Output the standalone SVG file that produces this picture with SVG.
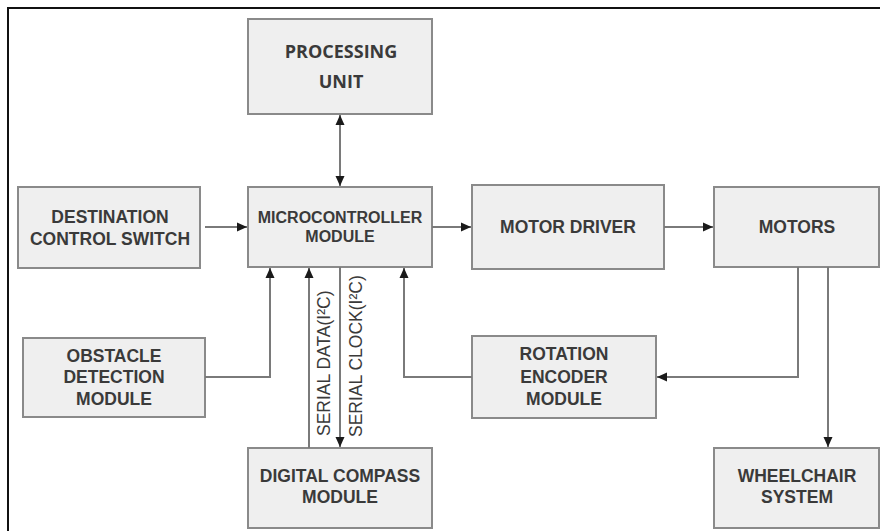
<svg xmlns="http://www.w3.org/2000/svg" width="880" height="531" viewBox="0 0 880 531">
<defs>
<marker id="arr" markerUnits="userSpaceOnUse" markerWidth="10" markerHeight="10" refX="10" refY="5" orient="auto-start-reverse" viewBox="0 0 10 10">
<path d="M0,0.5 L10,5 L0,9.5 z" fill="#1a1a1a"/>
</marker>
<style>
.box{fill:#efefef;stroke:#8a8a8a;stroke-width:2}
.t{font-family:"Liberation Sans",Arial,sans-serif;font-weight:bold;font-size:17.5px;fill:#3a3a3a;text-anchor:middle}
.pu{font-family:"Open Sans","Liberation Sans",sans-serif;font-weight:bold;font-size:18px;fill:#3a3a3a;text-anchor:middle}
.c{fill:none;stroke:#7a7a7a;stroke-width:2}
.lab{font-family:"Liberation Sans",Arial,sans-serif;font-size:17.5px;fill:#3a3a3a}
</style>
</defs>
<rect width="880" height="531" fill="#ffffff"/>
<path d="M8,531 V8 H880" fill="none" stroke="#111" stroke-width="2"/>

<g id="processing-unit">
<rect class="box" x="248" y="19" width="184" height="95"/>
<text class="pu" x="341" y="58">PROCESSING</text>
<text class="pu" x="341" y="88">UNIT</text>
</g>
<g id="destination-control-switch">
<rect class="box" x="18" y="187" width="182" height="81"/>
<text class="t" x="110" y="223">DESTINATION</text>
<text class="t" x="110" y="245">CONTROL SWITCH</text>
</g>
<g id="microcontroller-module">
<rect class="box" x="248" y="187" width="184" height="80"/>
<text class="t" x="340" y="223" style="font-size:16px">MICROCONTROLLER</text>
<text class="t" x="340" y="242" style="font-size:16px">MODULE</text>
</g>
<g id="motor-driver">
<rect class="box" x="472" y="185" width="192" height="84"/>
<text class="t" x="568" y="233">MOTOR DRIVER</text>
</g>
<g id="motors">
<rect class="box" x="714" y="187" width="165" height="80"/>
<text class="t" x="797" y="233">MOTORS</text>
</g>
<g id="obstacle-detection-module">
<rect class="box" x="23" y="338" width="182" height="79"/>
<text class="t" x="114" y="362">OBSTACLE</text>
<text class="t" x="114" y="383">DETECTION</text>
<text class="t" x="114" y="405">MODULE</text>
</g>
<g id="rotation-encoder-module">
<rect class="box" x="472" y="336" width="184" height="82"/>
<text class="t" x="564" y="360">ROTATION</text>
<text class="t" x="564" y="383">ENCODER</text>
<text class="t" x="564" y="405">MODULE</text>
</g>
<g id="digital-compass-module">
<rect class="box" x="248" y="448" width="184" height="80"/>
<text class="t" x="340" y="482">DIGITAL COMPASS</text>
<text class="t" x="340" y="503">MODULE</text>
</g>
<g id="wheelchair-system">
<rect class="box" x="714" y="448" width="165" height="80"/>
<text class="t" x="797" y="482">WHEELCHAIR</text>
<text class="t" x="797" y="503">SYSTEM</text>
</g>

<g id="connectors">
<path class="c" d="M340,115 V186" marker-start="url(#arr)" marker-end="url(#arr)"/>
<path class="c" d="M205,227 H247" marker-end="url(#arr)"/>
<path class="c" d="M432,227 H471" marker-end="url(#arr)"/>
<path class="c" d="M664,227 H713" marker-end="url(#arr)"/>
<path class="c" d="M205,377 H270 V268" marker-end="url(#arr)"/>
<path class="c" d="M309,448 V268" marker-end="url(#arr)"/>
<path class="c" d="M340,267 V447" marker-end="url(#arr)"/>
<path class="c" d="M472,377 H404 V268" marker-end="url(#arr)"/>
<path class="c" d="M798,267 V377 H657" marker-end="url(#arr)"/>
<path class="c" d="M828,267 V447" marker-end="url(#arr)"/>
<text class="lab" transform="translate(330,436) rotate(-90)">SERIAL DATA(I²C)</text>
<text class="lab" transform="translate(362,437) rotate(-90)">SERIAL CLOCK(I²C)</text>
</g>
</svg>
